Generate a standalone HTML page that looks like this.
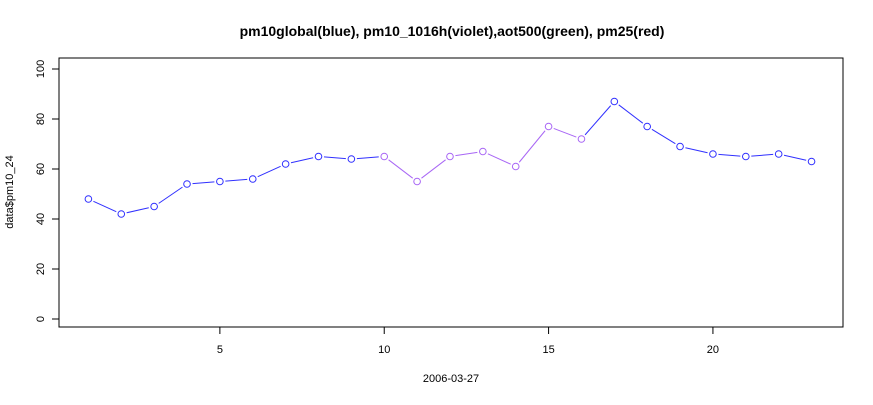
<!DOCTYPE html>
<html><head><meta charset="utf-8"><style>
body{margin:0;background:#fff}
svg text{font-family:"Liberation Sans",sans-serif;fill:#000}
</style></head><body>
<svg id="c" width="873" height="400">
<text x="452" y="36" text-anchor="middle" font-size="14" font-weight="bold">pm10global(blue), pm10_1016h(violet),aot500(green), pm25(red)</text>
<rect x="59" y="58" width="784" height="269" fill="none" stroke="#000"/>
<text x="451" y="382" text-anchor="middle" font-size="11">2006-03-27</text>
<text transform="translate(13,192) rotate(-90)" text-anchor="middle" font-size="11">data$pm10_24</text>
<g id="ax"></g><g id="marks"></g>
</svg>
<script>
const days=[1,2,3,4,5,6,7,8,9,10,11,12,13,14,15,16,17,18,19,20,21,22,23];
const pm10=[48,42,45,54,55,56,62,65,64,65,55,65,67,61,77,72,87,77,69,66,65,66,63];
const violetStart=10, violetEnd=16;
const xTicks=[5,10,15,20];
const yTicks=[0,20,40,60,80,100];
const X=d=>88.4+(d-1)*32.87;
const Y=v=>319-v*2.5;
const NS="http://www.w3.org/2000/svg";
const ax=document.getElementById('ax'), mk=document.getElementById('marks');
function el(t,a,p){const e=document.createElementNS(NS,t);for(const k in a)e.setAttribute(k,a[k]);p.appendChild(e);return e;}
xTicks.forEach(t=>{
 const l=el('line',{x1:X(t),x2:X(t),y1:327,y2:334,stroke:'#000'},ax);
 
 
 const s=el('text',{x:X(t),y:353,'text-anchor':'middle','font-size':11},ax);s.textContent=t;
 
 
});
yTicks.forEach(t=>{
 const l=el('line',{x1:52,x2:59,y1:Y(t),y2:Y(t),stroke:'#000'},ax);
 
 
 const s=el('text',{x:0,y:0,'text-anchor':'middle','font-size':11,transform:`translate(44,${Y(t)}) rotate(-90)`},ax);s.textContent=t;
 
 
});
const blue='#3030ff', vio='#a866f5';
for(let i=0;i<days.length-1;i++){
 const inV=days[i]>=violetStart&&days[i+1]<=violetEnd;
 const x1=X(days[i]),y1=Y(pm10[i]),x2=X(days[i+1]),y2=Y(pm10[i+1]);
 const dx=x2-x1,dy=y2-y1,L=Math.hypot(dx,dy),r=5.5;
 const l=el('line',{x1:x1+dx/L*r,y1:y1+dy/L*r,x2:x2-dx/L*r,y2:y2-dy/L*r,stroke:inV?vio:blue,'stroke-width':1},mk);
 
 
}
days.forEach((d,i)=>{
 const inV=d>=violetStart&&d<=violetEnd;
 const c=el('circle',{cx:X(d),cy:Y(pm10[i]),r:3.3,fill:'none',stroke:inV?vio:blue,'stroke-width':1},mk);
 
 
});
</script>
</body></html>
